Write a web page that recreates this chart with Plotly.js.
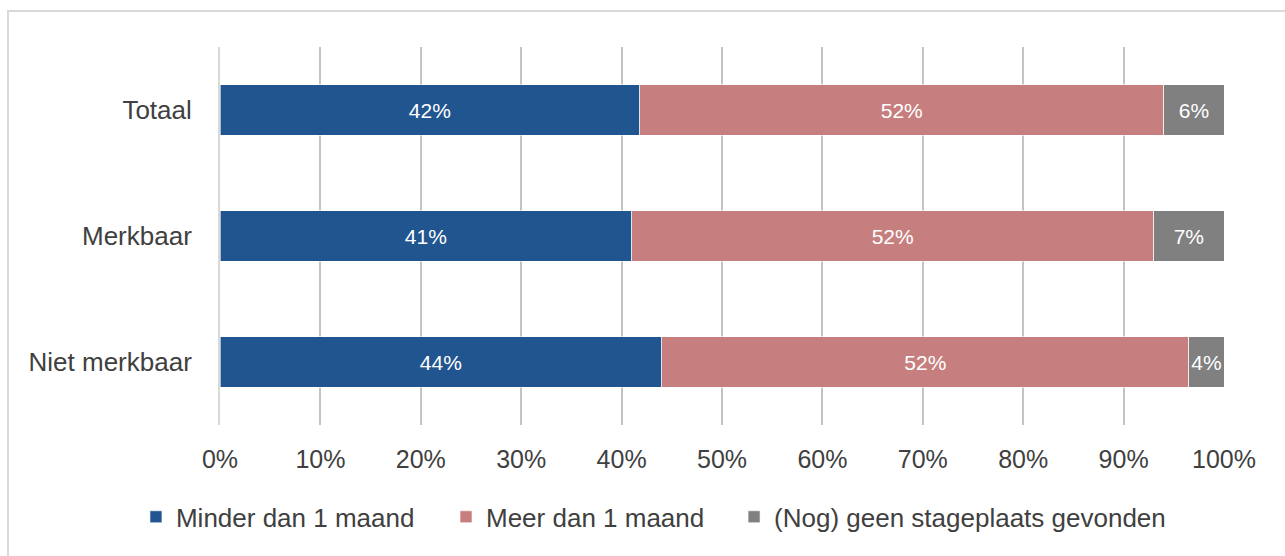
<!DOCTYPE html>
<html><head><meta charset="utf-8">
<script src="https://cdn.plot.ly/plotly-3.0.1.min.js"></script>
<style>
body{margin:0;padding:0;background:#fff;}
#wrap{position:relative;width:1285px;height:556px;overflow:hidden;}
#chart{position:absolute;left:0;top:0;width:1285px;height:556px;}
#frame{position:absolute;left:7px;top:10px;width:1300px;height:600px;border:2px solid #d9d9d9;pointer-events:none;box-sizing:border-box;}
</style></head>
<body>
<div id="wrap"><div id="chart"></div><div id="frame"></div></div>
<script>
var categories = ['Totaal', 'Merkbaar', 'Niet merkbaar'];
var seriesNames = ['Minder dan 1 maand', 'Meer dan 1 maand', '(Nog) geen stageplaats gevonden'];
var minderDan1Maand = [41.8, 41.0, 44.0];
var meerDan1Maand = [52.2, 52.0, 52.5];
var geenStageplaats = [6.0, 7.0, 3.5];
var minderLabels = ['42%', '41%', '44%'];
var meerLabels = ['52%', '52%', '52%'];
var geenLabels = ['6%', '7%', '4%'];
var tickVals = [0, 10, 20, 30, 40, 50, 60, 70, 80, 90, 100];
var tickText = ['0%', '10%', '20%', '30%', '40%', '50%', '60%', '70%', '80%', '90%', '100%'];
var colors = ['#215590', '#c67f7e', '#808080'];

var seriesVals = [minderDan1Maand, meerDan1Maand, geenStageplaats];
var seriesLabels = [minderLabels, meerLabels, geenLabels];
var legendIds = ['legend', 'legend2', 'legend3'];
var traces = seriesVals.map(function(v, i){
  return {
    type: 'bar', orientation: 'h', name: seriesNames[i], legend: legendIds[i],
    y: categories, x: v, text: seriesLabels[i],
    textposition: 'inside', insidetextanchor: 'middle', textangle: 0,
    constraintext: 'none',
    textfont: {color: '#ffffff', size: 21, family: 'Liberation Sans, Arial, sans-serif'},
    marker: {color: colors[i], line: {color: 'rgba(255,255,255,0.6)', width: 1}},
    hoverinfo: 'none', cliponaxis: false
  };
});

function leg(x){
  return {orientation: 'h', x: x, xanchor: 'left', y: -0.243, yanchor: 'middle',
    font: {size: 26, color: '#404040'}, itemwidth: 30, bgcolor: 'rgba(0,0,0,0)'};
}

var layout = {
  width: 1285, height: 556,
  margin: {l: 220, r: 61, t: 47, b: 131, autoexpand: false},
  barmode: 'stack', bargap: 0.603,
  paper_bgcolor: '#ffffff', plot_bgcolor: '#ffffff',
  font: {family: 'Liberation Sans, Arial, sans-serif', color: '#404040', size: 25},
  showlegend: true,
  legend: leg(-0.0837),
  legend2: leg(0.2251),
  legend3: leg(0.512),
  xaxis: {range: [0, 100], tickvals: tickVals, ticktext: tickText, showgrid: true, tickangle: 0,
    gridcolor: '#c3c3c3', gridwidth: 2, zeroline: false, showline: false, automargin: false,
    ticks: 'outside', ticklen: 12, tickcolor: 'rgba(0,0,0,0)', tickfont: {size: 25, color: '#404040'}, fixedrange: true},
  yaxis: {autorange: 'reversed', showgrid: false, zeroline: false, showline: true, linecolor: '#d9d9d9', linewidth: 2,
    automargin: false,
    ticks: 'outside', ticklen: 21, tickcolor: 'rgba(0,0,0,0)', tickfont: {size: 26, color: '#404040'}, fixedrange: true}
};
Plotly.newPlot('chart', traces, layout, {displayModeBar: false, staticPlot: true});
</script>
</body></html>
